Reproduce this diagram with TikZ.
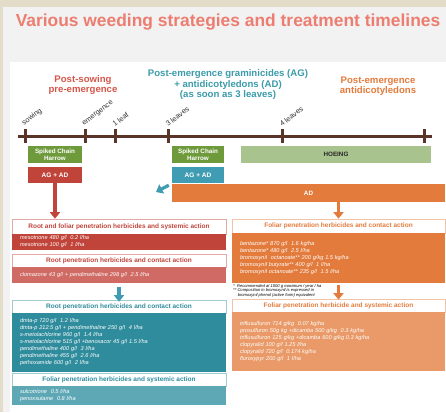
\documentclass[tikz,border=0pt]{standalone}
\usepackage{fontspec}
\setmainfont{Liberation Sans}
\usetikzlibrary{arrows.meta}

\definecolor{beige}{HTML}{E3DCC8}
\definecolor{panelgray}{HTML}{F2F2F2}
\definecolor{titlered}{HTML}{EC7D70}
\definecolor{phasered}{HTML}{D5574B}
\definecolor{darkred}{HTML}{C0443A}
\definecolor{lightred}{HTML}{CF6B64}
\definecolor{tealtext}{HTML}{3B9BAA}
\definecolor{tealbox}{HTML}{3F9CB2}
\definecolor{darkteal}{HTML}{2F8C9D}
\definecolor{lightteal}{HTML}{5EA8B6}
\definecolor{orangebox}{HTML}{E37B3C}
\definecolor{lightorange}{HTML}{E99A68}
\definecolor{harrowgreen}{HTML}{6E9A3C}
\definecolor{hoegreen}{HTML}{A8C38E}
\definecolor{timebrown}{HTML}{5A3427}

\tikzset{
  phase/.style={font=\fontsize{9.6}{10.5}\selectfont\bfseries, align=center},
  stage/.style={font=\fontsize{7.3}{8}\selectfont, text=black!80, rotate=37, anchor=south west, inner sep=0pt},
  tool/.style={fill=#1, text=white, font=\fontsize{6.3}{6.6}\selectfont\bfseries, align=center, inner sep=0pt},
  title/.style={draw=#1!45, line width=0.6pt, fill=white, text=#1, font=\fontsize{6.5}{7}\selectfont\bfseries,
    minimum height=13pt, inner sep=0pt},
  dose/.style={fill=#1, text=white, font=\fontsize{5.6}{7}\selectfont\itshape, align=left,
    inner xsep=8pt, inner ysep=0pt},
  fatarrow/.style={draw=#1, line width=3.2pt, -{Triangle[width=10pt,length=6.5pt]}}
}

\begin{document}
\begin{tikzpicture}[x=1pt,y=-1pt]
		%%%%% START %%%%%
		
		\fill[beige] (0,0) rectangle (446,412);
		\fill[panelgray] (3,7) rectangle (446,412);
		\fill[white] (10,62) rectangle (446,412);
		
		\node[font=\fontsize{17.4}{20}\selectfont\bfseries, text=titlered] (heading) at (228,22) {Various weeding strategies and treatment timelines};
		
		\node[phase, text=phasered] (presow) at (83,85) {Post-sowing\\pre-emergence};
		\node[phase, text=tealtext] (postag) at (228,85) {Post-emergence graminicides (AG)\\+ antidicotyledons (AD)\\(as soon as 3 leaves)};
		\node[phase, text=orangebox] (postad) at (378,86) {Post-emergence\\antidicotyledons};
		
		% timeline
		\draw[line width=3pt, timebrown] (18,136) -- (432,136);
		\draw[line width=3pt, timebrown] (25,129) -- (25,143);
		\draw[line width=3pt, timebrown] (85,129) -- (85,143);
		\draw[line width=3pt, timebrown] (115,129) -- (115,143);
		\draw[line width=3pt, timebrown] (168,129) -- (168,143);
		\draw[line width=3pt, timebrown] (282,129) -- (282,143);
		\draw[line width=3pt, timebrown] (424,129) -- (424,143);
		
		\node[stage] (sowing) at (25,127) {sowing};
		\node[stage] (emerg) at (85,127) {emergence};
		\node[stage] (oneleaf) at (115,127) {1 leaf};
		\node[stage] (threeleaves) at (168,127) {3 leaves};
		\node[stage] (fourleaves) at (282,127) {4 leaves};
		
		% tools and treatments
		\node[tool=harrowgreen, minimum width=54pt, minimum height=17pt] (harrowA) at (55,154.5) {Spiked Chain\\Harrow};
		\node[tool=darkred, minimum width=54pt, minimum height=16pt, font=\fontsize{6.5}{7}\selectfont\bfseries] (agadA) at (55,175) {AG + AD};
		\node[tool=harrowgreen, minimum width=52pt, minimum height=17pt] (harrowB) at (198,154.5) {Spiked Chain\\Harrow};
		\node[tool=tealbox, minimum width=52pt, minimum height=16pt, font=\fontsize{6.5}{7}\selectfont\bfseries] (agadB) at (198,175) {AG + AD};
		\node[tool=hoegreen, text=black!85, minimum width=190pt, minimum height=17pt] (hoeing) at (336,154.5) {HOEING};
		\node[tool=orangebox, minimum width=273pt, minimum height=18pt] (adbar) at (308.5,193) {AD};
		
		\coordinate (tealtip) at (156,192);
		\draw[fatarrow=tealbox] ([xshift=-3pt,yshift=-2pt]agadB.south west) -- (tealtip);
		
		% left column
		\node[title=darkred, minimum width=214pt, minimum height=15pt] (rootfoliar) at (119,226.5) {Root and foliar penetration herbicides and systemic action};
		\node[dose=darkred, text width=198pt, minimum height=16pt] (rootfoliarlist) at (119,242) {mesotrione 480 g/l\ \ 0.2 l/ha\\mesotrione 100 g/l\ \ 1 l/ha};
		\node[title=darkred, minimum width=214pt] (rootcontact) at (119,260.5) {Root penetration herbicides and contact action};
		\node[dose=lightred, text width=198pt, minimum height=16pt] (rootcontactlist) at (119,275) {clomazone 43 g/l + pendimethaline 298 g/l\ \ 2.5 l/ha};
		\node[title=darkteal, minimum width=214pt] (rootcontactB) at (119,306.5) {Root penetration herbicides and contact action};
		\node[dose=darkteal, text width=198pt, minimum height=59pt] (rootcontactBlist) at (119,342.5) {dmta-p 720 g/l\ \ 1.2 l/ha\\dmta-p 212.5 g/l + pendimethaline 250 g/l\ \ 4 l/ha\\s-metolachlorine 960 g/l\ \ 1.4 l/ha\\s-metolachlorine 515 g/l +benoxacor 45 g/l 1.5 l/ha\\pendimethaline 400 g/l\ \ 3 l/ha\\pendimethaline 455 g/l\ \ 2.6 l/ha\\pethoxamide 600 g/l\ \ 2 l/ha};
		\node[title=darkteal, minimum width=214pt] (foliarsys) at (119,379.5) {Foliar penetration herbicides and systemic action};
		\node[dose=lightteal, text width=198pt, minimum height=19pt] (foliarsyslist) at (119,395.5) {sulcotrione\ \ 0.5 l/ha\\penoxsulame\ \ 0.8 l/ha};
		
		\draw[fatarrow=darkred] (agadA.south) -- (agadA.south |- rootfoliar.north);
		\draw[fatarrow=tealbox] ([yshift=-4pt]rootcontactlist.south) -- ([yshift=-2pt]rootcontactB.north);
		
		% right column
		\node[title=orangebox, minimum width=213pt, minimum height=14pt] (foliarcontact) at (338.5,226) {Foliar penetration herbicides and contact action};
		\node[dose=orangebox, text width=197pt, minimum height=50pt] (foliarcontactlist) at (338.5,258) {bentazone* 870 g/l\ \ 1.6 kg/ha\\bentazone* 480 g/l\ \ 2.5 l/ha\\bromoxynil\ \ octanoate** 200 g/kg 1.5 kg/ha\\bromoxynil butyrate** 400 g/l\ \ 1 l/ha\\bromoxynil octanoate** 235 g/l\ \ 1.5 l/ha};
		\node[anchor=north west, align=left, inner sep=0pt, font=\fontsize{4.1}{4.3}\selectfont\itshape] (footnote) at (233,284.5) {*\ \ Recommended at 1000 g maximum / year / ha\\** Composition in bromoxynil is expressed in\\\ \ \ \ bromoxynil phenol (active form) equivalent};
		\node[title=orangebox, minimum width=213pt] (foliarsysB) at (338.5,305.5) {Foliar penetration herbicide and systemic action};
		\node[dose=lightorange, text width=197pt, minimum height=59pt] (foliarsysBlist) at (338.5,341.5) {triflusulfuron 714 g/kg\ \ 0.07 kg/ha\\prosulfuron 50g kg +dicamba 500 g/kg\ \ 0.3 kg/ha\\triflusulfuron 125 g/kg +dicamba 600 g/kg 0.3 kg/ha\\clopyralid 100 g/l 1.25 l/ha\\clopyralid 720 g/l\ \ 0.174 kg/ha\\fluroxypyr 200 g/l\ \ 1 l/ha};
		
		\draw[fatarrow=orangebox] (adbar.south -| foliarcontact.north) -- (foliarcontact.north);
		\draw[fatarrow=orangebox] ([yshift=-2pt]foliarcontactlist.south) -- ([yshift=-1pt]foliarsysB.north);
		
		%%%%% END %%%%%
\end{tikzpicture}
\end{document}
